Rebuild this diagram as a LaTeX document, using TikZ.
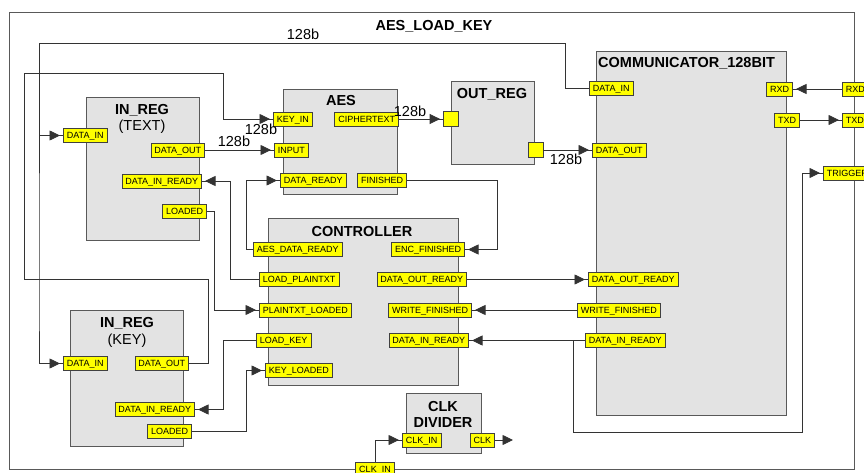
\documentclass[tikz,border=0pt]{standalone}
\usepackage{fontspec}
\setmainfont{Liberation Sans}
\usetikzlibrary{arrows.meta, positioning, decorations.markings}
\definecolor{blockgray}{RGB}{227,227,227}
\definecolor{portyellow}{RGB}{255,255,0}

\begin{document}
\begin{tikzpicture}[x=1pt, y=-1pt,
    block/.style={rectangle, draw=black!65, fill=blockgray, line width=0.9pt, anchor=north west, inner sep=0pt},
    title/.style={font=\fontsize{14.5}{16}\selectfont\bfseries, anchor=base, inner sep=0pt},
    subtitle/.style={font=\fontsize{14.5}{16}\selectfont, anchor=base, inner sep=0pt},
    port/.style={rectangle, draw=black!75, fill=portyellow, line width=0.8pt, font=\fontsize{9}{9}\selectfont, inner xsep=3.5pt, inner ysep=0pt, minimum height=14pt, text height=6.5pt, text depth=0pt},
    sqport/.style={rectangle, draw=black!75, fill=portyellow, line width=0.8pt, minimum size=15pt, inner sep=0pt},
    bits/.style={font=\fontsize{14.5}{16}\selectfont, inner sep=0pt},
    wire/.style={draw=black!80, line width=0.8pt},
    arr/.style={wire, decoration={markings, mark=at position -3pt with {\arrow{Triangle[length=10.5pt, width=10pt]}}}, postaction={decorate}}
]
\useasboundingbox (0,0) rectangle (864,473);
\clip (0,0) rectangle (864,473);

% outer frame
\node[draw=black!65, line width=1pt, minimum width=845pt, minimum height=457pt, anchor=north west, inner sep=0pt] (top) at (9,12) {};
\node[title] (top_title) at (434,30.5) {AES\_LOAD\_KEY};

% blocks
\node[block, minimum width=113pt, minimum height=143pt] (intext) at (86,97) {};
\node[block, minimum width=113pt, minimum height=136pt] (inkey) at (70,310) {};
\node[block, minimum width=114pt, minimum height=105pt] (aes) at (283,89) {};
\node[block, minimum width=83pt, minimum height=83pt] (outreg) at (451,81) {};
\node[block, minimum width=190pt, minimum height=364pt] (comm) at (596,51) {};
\node[block, minimum width=190pt, minimum height=167pt] (ctrl) at (268,218) {};
\node[block, minimum width=75pt, minimum height=60pt] (clkdiv) at (406,393) {};

% block titles
\node[title] (intext_t) at (142,114.4) {IN\_REG};
\node[subtitle] (intext_s) at (142,130.5) {(TEXT)};
\node[title] (inkey_t) at (127,327.5) {IN\_REG};
\node[subtitle] (inkey_s) at (127,344) {(KEY)};
\node[title] (aes_t) at (341,105.5) {AES};
\node[title] (outreg_t) at (492,99) {OUT\_REG};
\node[title, anchor=base west] (comm_t) at (598,67.5) {COMMUNICATOR\_128BIT};
\node[title] (ctrl_t) at (362,236) {CONTROLLER};
\node[title] (clkdiv_t) at (443,411) {CLK};
\node[title] (clkdiv_s) at (443,427.5) {DIVIDER};

% ports: IN_REG (TEXT)
\node[port, anchor=west] (tx_din) at (63,135.5) {DATA\_IN};
\node[port, anchor=east] (tx_dout) at (205,150) {DATA\_OUT};
\node[port, anchor=east] (tx_dir) at (202,181) {DATA\_IN\_READY};
\node[port, anchor=east] (tx_ld) at (207,211) {LOADED};
% ports: IN_REG (KEY)
\node[port, anchor=west] (ky_din) at (63,363.5) {DATA\_IN};
\node[port, anchor=east] (ky_dout) at (189,363.5) {DATA\_OUT};
\node[port, anchor=east] (ky_dir) at (195,409.5) {DATA\_IN\_READY};
\node[port, anchor=east] (ky_ld) at (192,431.5) {LOADED};
% ports: AES
\node[port, anchor=west] (aes_key) at (273,119) {KEY\_IN};
\node[port, anchor=west] (aes_in) at (274,150) {INPUT};
\node[port, anchor=west] (aes_dr) at (280,180.5) {DATA\_READY};
\node[port, anchor=east] (aes_ct) at (399,119) {CIPHERTEXT};
\node[port, anchor=east] (aes_fin) at (407,180.5) {FINISHED};
% ports: OUT_REG
\node[sqport] (or_in) at (451,119) {};
\node[sqport] (or_out) at (535.5,150) {};
% ports: COMMUNICATOR_128BIT
\node[port, anchor=west] (cm_din) at (589,88.5) {DATA\_IN};
\node[port, anchor=west] (cm_dout) at (592,150) {DATA\_OUT};
\node[port, anchor=east] (cm_rxd) at (793,89) {RXD};
\node[port, anchor=east] (cm_txd) at (800,120) {TXD};
\node[port, anchor=west] (cm_dor) at (588,279.5) {DATA\_OUT\_READY};
\node[port, anchor=west] (cm_wf) at (577,310) {WRITE\_FINISHED};
\node[port, anchor=west] (cm_dir) at (585,340.5) {DATA\_IN\_READY};
% ports: CONTROLLER
\node[port, anchor=west] (ct_adr) at (253,249.5) {AES\_DATA\_READY};
\node[port, anchor=west] (ct_lpt) at (259,279.5) {LOAD\_PLAINTXT};
\node[port, anchor=west] (ct_ptl) at (259,310) {PLAINTXT\_LOADED};
\node[port, anchor=west] (ct_lk) at (256,340.5) {LOAD\_KEY};
\node[port, anchor=west] (ct_kl) at (265,370.5) {KEY\_LOADED};
\node[port, anchor=east] (ct_enc) at (465,249.5) {ENC\_FINISHED};
\node[port, anchor=east] (ct_dor) at (467,279.5) {DATA\_OUT\_READY};
\node[port, anchor=east] (ct_wf) at (472,310) {WRITE\_FINISHED};
\node[port, anchor=east] (ct_dir) at (469,340.5) {DATA\_IN\_READY};
% ports: CLK DIVIDER
\node[port, anchor=west] (cd_in) at (402,440) {CLK\_IN};
\node[port, anchor=east] (cd_clk) at (495,440) {CLK};
% ports: top level
\node[port, anchor=west] (o_rxd) at (842,89) {RXD};
\node[port, anchor=west] (o_txd) at (842,120) {TXD};
\node[port, anchor=west] (o_trig) at (823,173) {TRIGGER};
\node[port] (o_clk) at (375,469.5) {CLK\_IN};
\coordinate (bus_t) at (39,135.5);
\coordinate (clk_out) at (513,440);

% data buses
\draw[arr] (cm_din.west) -| (565,43) -| (39,300) |- (ky_din.west);
\draw[arr] (bus_t) -- (tx_din.west);
\draw[arr] (ky_dout.east) -| (208,279) -| (24,73) -| (223,119) -- (aes_key.west);
\draw[arr] (tx_dout.east) -- (aes_in.west);
\draw[arr] (aes_ct.east) -- (or_in.west);
\draw[arr] (or_out.east) -- (cm_dout.west);
\node[bits] (b_top) at (303,34) {128b};
\node[bits] (b_key) at (261,129) {128b};
\node[bits] (b_in) at (234,141) {128b};
\node[bits] (b_ct) at (410,111.5) {128b};
\node[bits] (b_out) at (566,159) {128b};

% handshake lines
\draw[arr] (ct_lpt.west) -| (230,181) -- (tx_dir.east);
\draw[arr] (ct_adr.west) -| (246,180.5) -- (aes_dr.west);
\draw[arr] (tx_ld.east) -| (214,310) -- (ct_ptl.west);
\draw[arr] (ct_lk.west) -| (223,409.5) -- (ky_dir.east);
\draw[arr] (ky_ld.east) -| (246,370.5) -- (ct_kl.west);
\draw[arr] (aes_fin.east) -| (497,249.5) -- (ct_enc.east);
\draw[arr] (ct_dor.east) -- (cm_dor.west);
\draw[arr] (cm_wf.west) -- (ct_wf.east);
\draw[arr] (cm_dir.west) -- (ct_dir.east);
\draw[arr] (cm_dir.west) -| (573,432) -| (802,173) -- (o_trig.west);

% serial and clock
\draw[arr] (o_rxd.west) -- (cm_rxd.east);
\draw[arr] (cm_txd.east) -- (o_txd.west);
\draw[arr] (o_clk.north) |- (cd_in.west);
\draw[wire, -{Triangle[length=10.5pt, width=10pt]}] (cd_clk.east) -- (clk_out);

\end{tikzpicture}
\end{document}
